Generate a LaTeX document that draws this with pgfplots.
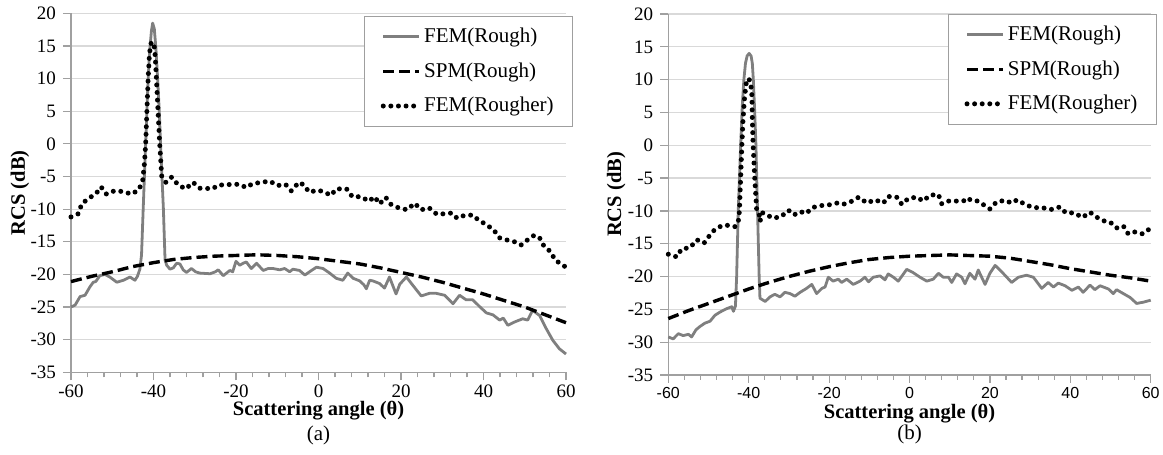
\documentclass[border=0pt]{standalone}
\usepackage{pgfplots}
\pgfplotsset{compat=1.18}
\usepackage{fontspec}
\setmainfont{Liberation Serif}
\newfontfamily\sansf{Liberation Sans}
\usepackage{xcolor}
\definecolor{cRough}{HTML}{7F7F7F}
\definecolor{cGrid} {HTML}{D9D9D9}
\definecolor{cAxis} {HTML}{A0A0A0}

\pgfplotsset{
  rcsbase/.style={
    scale only axis,
    anchor = south west,
    xmin = -60, xmax = 60,
    ymin = -35, ymax = 20,
    xtick = {-60,-40,...,60},
    ytick = {-35,-30,...,20},
    minor x tick num = 4,
    axis x line* = bottom,
    axis y line* = left,
    axis line style = {cAxis, line width=0.7pt, -},
    tick style      = {cAxis, line width=0.6pt},
    tick align = outside,
    major tick length = 4pt,
    minor tick length = 2.5pt,
    ymajorgrids,
    grid style = {cGrid, line width=0.6pt},
    /pgf/number format/assume math mode = true,
    tick label style = {font=\fontsize{9.5}{11}\selectfont},
    xticklabel style = {yshift=1.5pt},
    label style = {font=\bfseries\fontsize{10.25}{12}\selectfont},
    ylabel = {RCS (dB)},
    xlabel = {Scattering angle (θ)},
    clip = false,
    legend cell align = left,
    legend style = {
      anchor = north east,
      draw = gray!75,
      fill = white,
      font = \fontsize{10.5}{12}\selectfont,
      inner xsep = 8.25pt, inner ysep = 3.75pt,
      row sep = 4.5pt,
      nodes = {inner xsep=1.2pt, inner ysep=2pt},
    },
    legend image code/.code = {\draw[#1] (0pt,0pt) -- (18pt,0pt);},
  },
  fem/.style  = {cRough, line width=1.4pt, line join=round},
  spm/.style  = {black, line width=1.7pt, dash pattern=on 5.5pt off 2.5pt},
  femr/.style = {black, line width=2.5pt, line cap=round, dash pattern=on 0pt off 3.8pt},
}

\begin{document}
\begin{tikzpicture}
\useasboundingbox (0,0) rectangle (581.5pt,227.5pt);

% ---------------- panel (a) ----------------
\begin{axis}[
  rcsbase,
  at = {(35.5pt,41.35pt)},
  width = 247.5pt, height = 179.5pt,
  ylabel style = {at={(axis description cs:-0.103,0.5)}, anchor=center},
  xlabel style = {at={(axis description cs:0.5,-0.108)}, anchor=center},
  legend style = {at={(1.014,0.992)}},
]
\addplot[fem] coordinates {
  (-60,-25.0)(-59.0,-24.7)(-57.8,-23.4)(-56.6,-23.2)(-55.4,-21.9)(-54.6,-21.2)
  (-54.0,-21.1)(-53.0,-20.2)(-51.8,-20.0)(-50.6,-20.4)(-48.9,-21.2)(-47.3,-20.9)
  (-45.7,-20.4)(-44.5,-20.9)(-43.9,-20.3)(-43.3,-19.2)
  (-42.9,-17)(-42.5,-10)(-41.9,0)(-41.6,5)(-41.3,10)(-40.9,14.5)(-40.5,17.3)
  (-40.2,18.5)(-39.8,17.6)(-39.4,14.5)(-39.0,10)(-38.6,5)(-38.3,0)(-37.6,-10)(-37.2,-17.8)
  (-36.8,-18.6)(-36.0,-19.2)(-35.2,-19.0)(-34.4,-18.3)(-33.6,-18.4)(-32.8,-19.3)
  (-32.0,-19.7)(-30.8,-19.1)(-29.8,-19.6)(-28.8,-19.8)(-26.3,-19.9)(-25.0,-19.6)
  (-24.3,-19.3)(-23.1,-20.2)(-21.5,-19.4)(-20.8,-19.6)(-20.0,-18.0)(-19.1,-18.6)
  (-18.3,-18.3)(-17.5,-18.1)(-16.3,-19.1)(-15.0,-18.3)(-13.4,-19.4)(-12.2,-19.1)
  (-11.0,-19.1)(-9.4,-19.3)(-8.2,-19.1)(-7.0,-19.6)(-6.2,-19.2)(-4.6,-19.4)
  (-3.3,-20.1)(-1.7,-19.4)(-0.5,-18.9)(1.1,-19.1)(2.7,-19.8)(4.3,-20.6)(5.9,-20.9)
  (7.1,-19.8)(8.4,-20.6)(10.0,-21.0)(11.0,-21.6)(11.6,-22.2)(12.4,-20.9)(13.2,-21.0)
  (14.8,-21.4)(16.0,-22.1)(17.2,-20.4)(18.8,-23.0)(19.7,-21.5)(21.3,-20.4)(22.9,-21.7)
  (24.9,-23.3)(26.9,-22.9)(28.5,-22.9)(30.6,-23.2)(32.6,-24.5)(34.2,-23.2)(35.8,-23.9)
  (37.4,-23.9)(39.0,-24.9)(40.7,-25.9)(42.3,-26.2)(43.9,-27.0)(44.8,-26.7)(45.9,-27.8)
  (47.5,-27.3)(49.5,-26.8)(50.7,-27.0)(51.9,-25.5)(53.6,-26.3)(55.2,-28.3)(56.8,-30.1)
  (58.4,-31.4)(60.0,-32.2)
};
\addlegendentry{FEM(Rough)}
\addplot[spm] coordinates {
  (-60,-21.1)(-55,-20.3)(-50,-19.6)(-45,-18.8)(-40,-18.2)(-35,-17.7)(-30,-17.4)
  (-25,-17.2)(-20,-17.1)(-15,-17.0)(-10,-17.1)(-5,-17.3)(0,-17.6)(5,-18.0)(10,-18.4)
  (15,-19.0)(20,-19.7)(25,-20.4)(30,-21.2)(35,-22.1)(40,-23.0)(45,-24.0)(50,-25.0)
  (55,-26.2)(60,-27.4)
};
\addlegendentry{SPM(Rough)}
\addplot[femr] coordinates {
  (-60,-11.2)(-58.2,-10.7)(-57.4,-9.2)(-55.8,-8.4)(-53.9,-7.6)(-52.7,-6.6)(-51.4,-7.7)
  (-49.5,-7.2)(-47.5,-7.3)(-45.3,-7.7)(-43.5,-7.0)(-42.6,-5.5)(-42.2,-3)(-41.9,0)
  (-41.6,5)(-41.3,10)(-41.0,13.5)(-40.7,15.3)(-40.3,15.6)(-39.9,15.4)(-39.6,13.5)
  (-39.3,10)(-38.9,5)(-38.5,0)(-38.0,-5)(-37.4,-5.5)(-37.0,-5.9)(-35.6,-5.1)
  (-34.0,-6.3)(-32.2,-6.9)(-30.4,-5.9)
  (-28.8,-6.8)(-27.6,-6.8)(-25.7,-6.9)(-24.3,-6.3)(-22.7,-6.3)(-21.1,-6.2)(-19.2,-6.2)
  (-17.5,-6.7)(-16.0,-6.1)(-13.8,-5.9)(-11.8,-5.7)(-10.0,-6.4)(-8.0,-6.2)(-6.6,-7.2)
  (-6.0,-6.8)(-4.8,-5.9)(-3.5,-6.3)(-2.3,-7.4)(-0.1,-7.1)(1.5,-7.4)(3.0,-7.9)(4.3,-6.9)
  (6.8,-6.9)(8.2,-8.1)(10.4,-8.1)(12.2,-8.8)(13.6,-8.1)(14.8,-9.2)(16.3,-8.2)(17.6,-9.3)
  (19.4,-9.8)(21.5,-10.1)(23.3,-9.1)(24.9,-10.1)(26.8,-9.8)(28.7,-10.8)(30.7,-10.7)
  (32.3,-10.6)(33.6,-11.4)(35.2,-11.0)(37.4,-10.9)(38.8,-11.7)(40.5,-12.3)(42.5,-13.2)
  (43.9,-14.4)(45.5,-14.7)(47.5,-15.0)(49.1,-15.5)(50.7,-14.7)(52.3,-14.0)(53.6,-14.4)
  (54.6,-15.6)(56.2,-16.5)(57.4,-17.8)(59.0,-18.5)(60,-18.9)
};
\addlegendentry{FEM(Rougher)}
\node[font=\fontsize{10.5}{12}\selectfont] at (axis description cs:0.5,-0.177) {(a)};
\end{axis}

% ---------------- panel (b) ----------------
\begin{axis}[
  rcsbase,
  at = {(334.15pt,40pt)},
  width = 241.2pt, height = 180.5pt,
  xticklabel style = {font=\sansf\fontsize{8}{9.5}\selectfont},
  ylabel style = {at={(axis description cs:-0.108,0.5)}, anchor=center},
  xlabel style = {at={(axis description cs:0.5,-0.106)}, anchor=center},
  legend style = {at={(1.0124,1.0)}},
]
\addplot[fem] coordinates {
  (-60,-29.2)(-58.8,-29.5)(-57.5,-28.7)(-56.3,-29.0)(-55.0,-28.8)(-54.2,-29.2)
  (-53.1,-28.1)(-52.1,-27.6)(-50.9,-27.1)(-49.6,-26.8)(-48.4,-25.9)(-47.1,-25.4)
  (-45.5,-24.9)(-44.2,-24.6)(-43.8,-25.3)(-43.3,-24.5)
  (-43.0,-20)(-42.6,-10)(-42.0,0)(-41.6,6)(-41.2,10)(-40.8,12.5)(-40.4,13.6)
  (-39.9,14.0)(-39.4,13.6)(-39.1,12.5)(-38.85,10)(-38.5,5)(-38.2,0)(-37.8,-10)
  (-37.4,-20)(-37.2,-23.3)
  (-35.9,-23.8)(-34.7,-23.1)(-33.5,-22.7)(-32.2,-23.1)(-31.0,-22.4)(-29.7,-22.6)
  (-28.5,-23.0)(-27.2,-22.4)(-25.6,-21.8)(-24.3,-21.2)(-23.1,-22.6)(-21.8,-21.8)
  (-21.0,-21.6)(-20.2,-20.1)(-19.0,-20.7)(-17.7,-20.4)(-16.9,-20.9)(-15.6,-20.4)
  (-14.0,-21.2)(-12.3,-20.7)(-11.1,-20.1)(-10.2,-20.8)(-9.0,-20.1)(-7.3,-19.9)
  (-6.1,-20.5)(-5.3,-19.6)(-4.0,-20.1)(-2.8,-20.7)(-1.5,-19.6)(-0.7,-18.9)(0.9,-19.4)
  (2.6,-20.1)(4.3,-20.7)(5.9,-20.4)(7.2,-19.5)(8.4,-20.1)(9.7,-20.1)(10.5,-20.9)
  (11.7,-19.6)(13.0,-20.1)(13.8,-21.1)(15.0,-19.5)(16.3,-20.4)(17.1,-19.0)(18.8,-21.2)
  (20.0,-19.5)(21.3,-18.3)(22.5,-19.0)(24.2,-20.1)(25.4,-20.9)(27.1,-20.1)(29.1,-19.8)
  (30.8,-20.1)(32.9,-21.8)(34.5,-20.9)(35.8,-21.6)(37.0,-21.0)(38.7,-21.4)(40.4,-22.1)
  (42.0,-21.6)(43.2,-22.4)(44.9,-21.3)(46.1,-22.0)(47.4,-21.4)(49.5,-21.9)(50.7,-22.6)
  (51.5,-22.0)(53.2,-22.6)(54.9,-23.2)(56.5,-24.1)(58.2,-23.9)(60,-23.6)
};
\addlegendentry{FEM(Rough)}
\addplot[spm] coordinates {
  (-60,-26.4)(-55,-25.2)(-50,-24.1)(-45,-23.0)(-40,-21.9)(-35,-20.9)(-30,-20.0)
  (-25,-19.2)(-20,-18.5)(-15,-17.9)(-10,-17.4)(-5,-17.1)(0,-16.9)(5,-16.8)(10,-16.7)
  (15,-16.8)(20,-16.9)(25,-17.2)(30,-17.7)(35,-18.2)(40,-18.8)(45,-19.3)(50,-19.8)
  (55,-20.2)(60,-20.7)
};
\addlegendentry{SPM(Rough)}
\addplot[femr] coordinates {
  (-60,-16.6)(-57.9,-17.0)(-56.7,-15.8)(-54.6,-15.6)(-52.9,-14.4)(-51.1,-14.9)
  (-49.8,-13.8)(-48.4,-12.8)(-46.5,-12.2)(-44.7,-12.2)(-43.4,-12.4)(-42.6,-11.7)
  (-42.3,-10)(-42.0,-5)(-41.7,0)(-41.4,4)(-41.0,7.5)(-40.6,9.5)(-40.0,10.2)
  (-39.5,9.5)(-39.2,7.5)(-39.1,4)(-38.9,0)(-38.5,-5)(-38.0,-10)(-37.4,-10.4)
  (-37.2,-11.6)(-36.5,-10.3)(-35.5,-10.6)(-34.0,-11.1)(-32.0,-10.9)(-30.1,-9.9)(-28.7,-10.6)
  (-27.2,-10.1)(-25.7,-10.4)(-24.2,-9.5)(-22.3,-9.2)(-20.2,-9.1)(-18.0,-8.8)
  (-16.5,-9.0)(-14.6,-8.6)(-12.6,-7.9)(-10.6,-8.8)(-8.6,-8.3)(-6.5,-8.8)(-5.3,-7.8)
  (-3.2,-7.9)(-1.9,-9.0)(-0.3,-8.1)(1.8,-7.9)(3.4,-8.5)(5.1,-7.6)(7.2,-7.5)(8.0,-8.9)
  (9.3,-8.5)(11.3,-8.5)(13.4,-8.5)(14.4,-8.0)(15.3,-8.4)(17.1,-8.5)(18.5,-9.1)
  (20.0,-9.7)(21.7,-8.6)(23.8,-8.4)(25.4,-8.8)(26.8,-8.3)(28.7,-9.0)(30.8,-9.5)
  (33.0,-9.5)(35.1,-9.8)(37.4,-9.4)(38.9,-10.3)(41.0,-10.3)(43.0,-11.0)(44.9,-10.2)
  (46.4,-10.9)(48.2,-11.5)(49.9,-11.7)(51.5,-12.6)(53.2,-12.3)(54.4,-13.5)(56.1,-13.2)
  (58.0,-13.5)(59.8,-12.7)
};
\addlegendentry{FEM(Rougher)}
\node[font=\fontsize{10.5}{12}\selectfont] at (axis description cs:0.5,-0.165) {(b)};
\end{axis}

\end{tikzpicture}
\end{document}
